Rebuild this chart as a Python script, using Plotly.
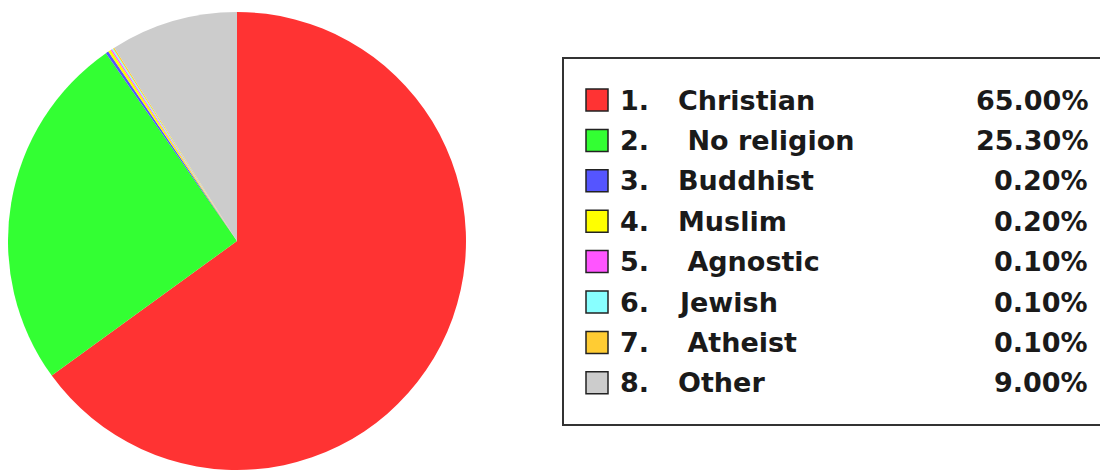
import plotly.graph_objects as go

categories = ["Christian", "No religion", "Buddhist", "Muslim", "Agnostic", "Jewish", "Atheist", "Other"]
values = [65.00, 25.30, 0.20, 0.20, 0.10, 0.10, 0.10, 9.00]
colors = ["#FF3333", "#33FF33", "#5555FF", "#FFFF00", "#FF55FF", "#88FFFF", "#FFCC33", "#CCCCCC"]
lead_space = [False, True, False, False, True, False, True, False]

OFF = 8  # page body margin offset
W, H = 1108 - OFF, 472 - OFF

def px(x):
    return (x - OFF) / W

def py(y):
    return 1 - (y - OFF) / H

fig = go.Figure(go.Pie(
    labels=categories,
    values=values,
    marker=dict(colors=colors, line=dict(width=0)),
    sort=False,
    direction="clockwise",
    rotation=0,
    textinfo="none",
    hoverinfo="label+percent",
    showlegend=False,
    domain=dict(x=[px(8), px(466)], y=[py(470), py(12)]),
))

shapes = []
annotations = []
font = dict(family="DejaVu Sans", size=27, color="#1a1a1a", weight="bold")

# legend box: top, left and bottom edges only (right side runs off the page)
box_line = dict(color="#333333", width=2)
shapes.append(dict(type="path", xref="paper", yref="paper",
                   path=f"M {px(1200)},{py(58)} L {px(563)},{py(58)} L {px(563)},{py(425)} L {px(1200)},{py(425)}",
                   line=box_line))

row0, step = 100, 40.4
for i, (cat, val, col) in enumerate(zip(categories, values, colors)):
    yc = row0 + i * step
    shapes.append(dict(type="rect", xref="paper", yref="paper",
                       x0=px(586), x1=px(608), y0=py(yc + 11), y1=py(yc - 11),
                       line=dict(color="#222222", width=1.5), fillcolor=col))
    annotations.append(dict(xref="paper", yref="paper", x=px(618), y=py(yc),
                            text=f"{i + 1}.", showarrow=False, xanchor="left",
                            yanchor="middle", font=font))
    name = ("\u00a0" + cat) if lead_space[i] else cat
    annotations.append(dict(xref="paper", yref="paper", x=px(676), y=py(yc),
                            text=name, showarrow=False, xanchor="left",
                            yanchor="middle", font=font))
    annotations.append(dict(xref="paper", yref="paper", x=px(1090), y=py(yc),
                            text=f"{val:.2f}%", showarrow=False, xanchor="right",
                            yanchor="middle", font=font))

fig.update_layout(
    width=W, height=H,
    margin=dict(l=0, r=0, t=0, b=0),
    paper_bgcolor="white",
    plot_bgcolor="white",
    shapes=shapes,
    annotations=annotations,
)

fig.write_html("out.html", config={"displayModeBar": False})
